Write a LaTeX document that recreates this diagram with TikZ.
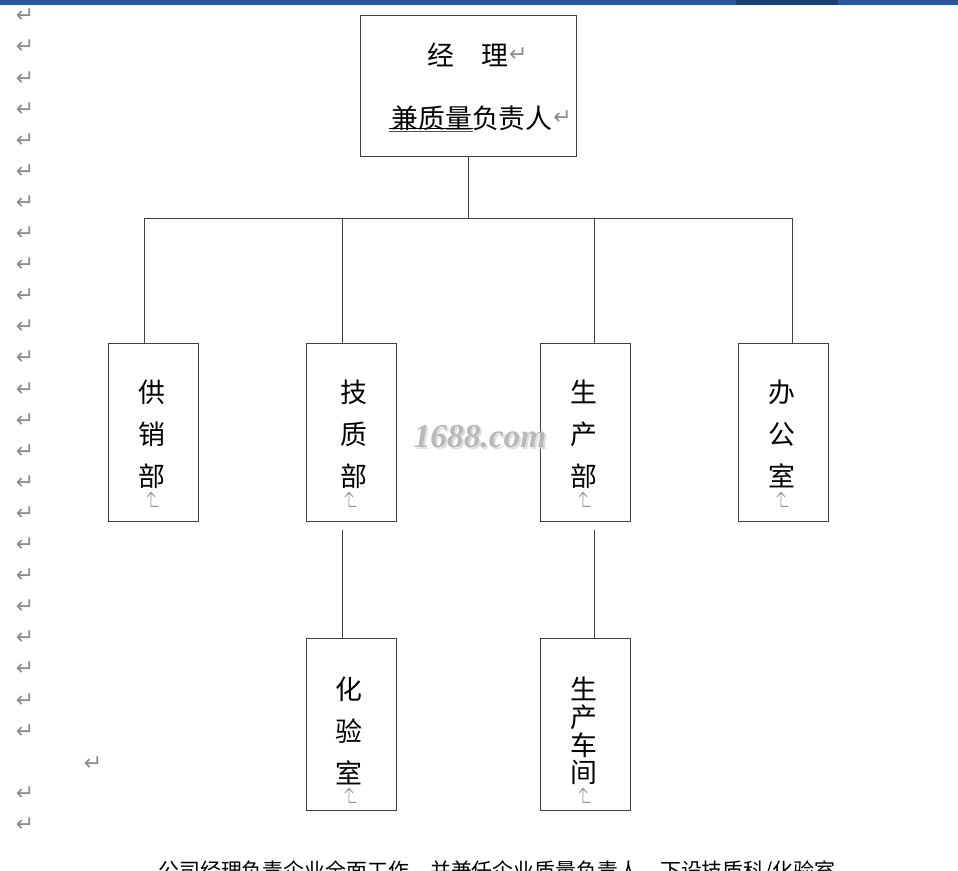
\documentclass[tikz,border=0pt]{standalone}
\usepackage{fontspec}
\newfontfamily\cjk{Noto Sans CJK SC}
\newfontfamily\symf{DejaVu Sans}
\newfontfamily\wmfont{Liberation Serif}
\usetikzlibrary{calc, positioning}
\definecolor{wordblue}{HTML}{2B579A}
\definecolor{wordnavy}{HTML}{1F3F73}
\definecolor{pmark}{HTML}{8C8C8C}
\definecolor{squig}{HTML}{2F5597}
\tikzset{unit/.style={draw=black!75, line width=0.5pt, minimum width=1.8cm, inner sep=0pt},
  wire/.style={black!75, line width=0.5pt},
  retmark/.style={pmark, font=\symf\fontsize{12.5}{12.5}\selectfont, inner sep=0pt},
  dept/.style={font=\cjk\fontsize{15.3}{23.8}\selectfont, align=center, inner sep=0pt}}

\begin{document}
\begin{tikzpicture}[x=0.02cm, y=-0.02cm]
  \useasboundingbox (0,0) rectangle (958,871);
  \fill[wordblue] (0,0) rectangle (958,5);\fill[wordnavy] (736,0) rectangle (838,5);
  % paragraph marks down the margin
  \foreach \i in {0,...,23,25,26}{\node[retmark] (r\i) at (25,{16+31.1*\i}) {↵};}
  \node[retmark] (r24) at (93,764) {↵};
  % manager
  \node[unit, minimum width=4.32cm, minimum height=2.82cm] (jl) at (468,85.5) {};
  \node[dept] (jl-a) at (468,55) {经　理};\node[retmark, right=0pt of jl-a] (jl-ar) {↵};
  \node[dept] (jl-b) at (472,118) {兼质量负责人};\node[retmark, right=0pt of jl-b] (jl-br) {↵};
  \draw[black, line width=0.6pt] (389,128.5) -- (473,128.5);
  \draw[squig, line width=0.8pt] (389,131.7) -- (473,131.7);
  % departments
  \node[unit, minimum height=3.56cm] (gx) at (153,432) {};
  \node[unit, minimum height=3.56cm] (jz) at (351,432) {};
  \node[unit, minimum height=3.56cm] (sc) at (585,432) {};
  \node[unit, minimum height=3.56cm] (bg) at (783,432) {};
  \node[unit, minimum height=3.44cm] (hys) at (351,724) {};
  \node[unit, minimum height=3.44cm] (cj) at (585,724) {};
  \node[dept] (gx-t) at ($(gx)+(-1,2)$) {供\\销\\部};
  \node[dept] (jz-t) at ($(jz)+(3,2)$) {技\\质\\部};
  \node[dept] (sc-t) at ($(sc)+(-1,2)$) {生\\产\\部};
  \node[dept] (bg-t) at ($(bg)+(-1,2)$) {办\\公\\室};
  \node[dept] (hys-t) at ($(hys)+(-2,7)$) {化\\验\\室};
  \node[dept, font=\cjk\fontsize{15.3}{15.7}\selectfont] (cj-t) at ($(cj)+(-1,7)$) {生\\产\\车\\间};
  \foreach \n/\dy in {gx/15,jz/15,sc/15,bg/15,hys/8,cj/8}{
    \draw[pmark, line width=0.5pt] ($(\n.south)+(-2,-\dy)$) coordinate (m) -- ++(0,-14) ++(-4,4.5) -- ++(4,-4.5) -- ++(4,4.5) (m) -- ++(7,0);}
  % connectors
  \coordinate (t1) at (144,218);\coordinate (t2) at (342,218);\coordinate (t3) at (594,218);\coordinate (t4) at (792,218);
  \draw[wire] (jl.south) -- (jl.south |- t1);
  \draw[wire] (t1) -- (t4);
  \foreach \t/\n in {t1/gx,t2/jz,t3/sc,t4/bg}{\draw[wire] (\t) -- (\t |- \n.north);}
  \coordinate (d1) at (342,530);\coordinate (d2) at (594,530);
  \draw[wire] (d1) -- (d1 |- hys.north);
  \draw[wire] (d2) -- (d2 |- cj.north);
  % watermark
  \node[gray!25, font=\wmfont\bfseries\itshape\fontsize{19}{19}\selectfont] (wm-s) at (482,439) {1688.com};
  \node[gray!55, font=\wmfont\bfseries\itshape\fontsize{19}{19}\selectfont] (wm) at (480,437) {1688.com};
  % text below the chart
  \node[anchor=base west, inner sep=0pt, font=\cjk\fontsize{11.9}{14}\selectfont] (note) at (158,879) {公司经理负责企业全面工作，并兼任企业质量负责人，下设技质科/化验室};
\end{tikzpicture}
\end{document}
